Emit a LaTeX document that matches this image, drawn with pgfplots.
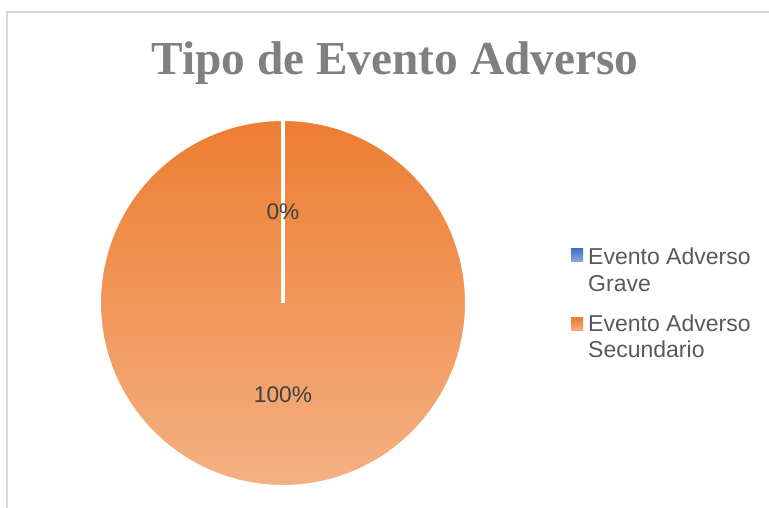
\documentclass[border=0pt]{standalone}
\usepackage{pgfplots}
\usepackage{pgfplotstable}
\pgfplotsset{compat=1.18}
\usepackage{fontspec}
\setmainfont{Liberation Sans}
\newfontfamily\titlefont{Liberation Serif}
\definecolor{pieTop}{HTML}{ED7D31}
\definecolor{pieBot}{HTML}{F4B183}
\definecolor{blueTop}{HTML}{4472C4}
\definecolor{blueBot}{HTML}{8FAADC}
\definecolor{frameC}{HTML}{D9D9D9}
\definecolor{titleC}{HTML}{808080}
\definecolor{legC}{HTML}{595959}
\definecolor{lblC}{HTML}{404040}
\begin{document}
\pgfplotstableread{
tipo valor
Grave 0
Secundario 100
}\datos
\begin{tikzpicture}
\pgfplotstablegetelem{0}{valor}\of\datos \let\va\pgfplotsretval
\pgfplotstablegetelem{1}{valor}\of\datos \let\vb\pgfplotsretval
\pgfmathsetmacro\tot{\va+\vb}
\pgfmathsetmacro\fa{\va/\tot}
\pgfmathsetmacro\fb{\vb/\tot}
\pgfmathsetmacro\aA{90}
\pgfmathsetmacro\aB{90-360*\fa}
\pgfmathsetmacro\aC{\aB-360*\fb}
\pgfmathsetmacro\cx{283}
\pgfmathsetmacro\cy{205}
\pgfmathsetmacro\R{183}
\pgfmathsetmacro\xA{\cx+\R*cos(\aA)}
\pgfmathsetmacro\yA{\cy+\R*sin(\aA)}
\pgfmathsetmacro\xB{\cx+\R*cos(\aB)}
\pgfmathsetmacro\yB{\cy+\R*sin(\aB)}
\pgfmathsetmacro\mA{(\aA+\aB)/2}
\pgfmathsetmacro\mB{(\aB+\aC)/2}
\pgfmathsetmacro\lxA{\cx+0.5*\R*cos(\mA)}
\pgfmathsetmacro\lyA{\cy+0.5*\R*sin(\mA)}
\pgfmathsetmacro\lxB{\cx+0.5*\R*cos(\mB)}
\pgfmathsetmacro\lyB{\cy+0.5*\R*sin(\mB)}
\begin{axis}[
  x=1pt, y=1pt,
  xmin=0, xmax=769, ymin=0, ymax=508,
  hide axis, clip=false,
]
\coordinate (ll) at (0,0);
\coordinate (ur) at (769,508);
% frame
\draw[frameC, line width=1.5pt] (7,-5) -- (7,496) -- (775,496);
% title
\node[anchor=base, inner sep=0pt, text=titleC, font=\titlefont\bfseries\fontsize{47.3}{50}\selectfont] at (395,433) {Tipo de Evento Adverso};
% slice 2 (Secundario)
\fill[top color=pieTop, bottom color=pieBot] (\cx,\cy) -- (\xB,\yB) arc[start angle=\aB, end angle=\aC, radius=\R] -- cycle;
\draw[white, line width=2pt] (\cx,\cy) -- (\xB,\yB) arc[start angle=\aB, end angle=\aC, radius=\R] -- cycle;
% slice 1 (Grave, 0)
\draw[white, line width=4pt] (\cx,\cy) -- (\xA,\yA);
% data labels
\node[text=lblC, font=\fontsize{22.7}{27}\selectfont, inner sep=0pt] at (\lxA,\lyA) {\va\%};
\node[text=lblC, font=\fontsize{22.7}{27}\selectfont, inner sep=0pt] at (\lxB,\lyB) {\vb\%};
% legend
\fill[top color=blueTop, bottom color=blueBot] (571,246) rectangle (583,259);
\fill[top color=pieTop, bottom color=pieBot] (571,177) rectangle (583,190);
\begin{scope}[every node/.style={anchor=base west, inner sep=0pt, text=legC, font=\fontsize{23}{27}\selectfont}]
\node at (588,243) {Evento Adverso};
\node at (588,216) {Grave};
\node at (588,176) {Evento Adverso};
\node at (588,150) {Secundario};
\end{scope}
\end{axis}
\pgfresetboundingbox
\path[use as bounding box] (ll) rectangle (ur);
\end{tikzpicture}
\end{document}
